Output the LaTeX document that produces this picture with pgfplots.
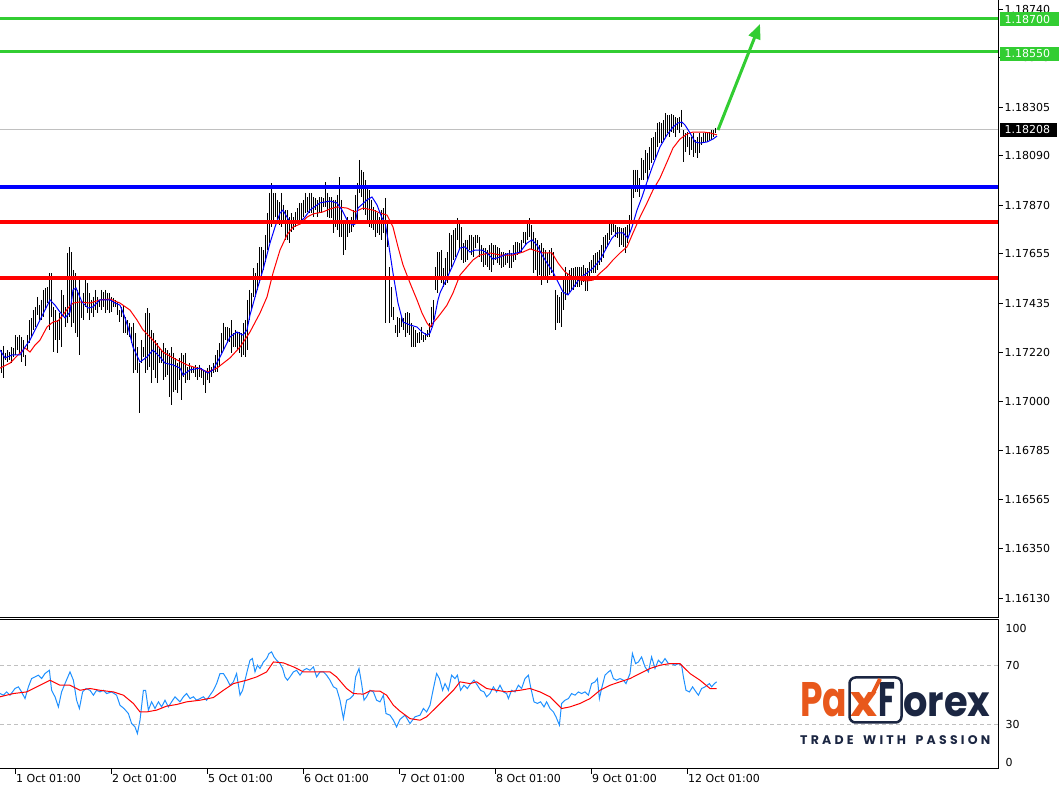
\documentclass[border=0pt]{standalone}
\usepackage{fontspec}
\setmainfont{DejaVu Sans}
\newfontfamily\logofont{Poppins}
\usepackage{pgfplots}
\pgfplotsset{compat=1.18}
\usepackage{pgfplotstable}
\usetikzlibrary{arrows.meta}

\definecolor{mtgreen}{RGB}{50,205,50}
\definecolor{mtgray}{RGB}{192,192,192}
\definecolor{rsiblue}{RGB}{30,144,255}
\definecolor{pxorange}{RGB}{232,88,28}
\definecolor{pxnavy}{RGB}{27,38,66}

% H/L bars (j = bar number, 0 = 1 Oct 01:00, 48 bars per day)
\pgfplotstableread{
j h l
-7 1.17229 1.17127
-6 1.17247 1.17105
-5 1.17216 1.17185
-4 1.17229 1.17176
-3 1.17220 1.17185
-2 1.17242 1.17171
-1 1.17238 1.17198
0 1.17295 1.17207
1 1.17287 1.17229
2 1.17295 1.17216
3 1.17287 1.17176
4 1.17273 1.17198
5 1.17207 1.17158
6 1.17295 1.17229
7 1.17362 1.17260
8 1.17371 1.17287
9 1.17406 1.17318
10 1.17420 1.17331
11 1.17464 1.17384
12 1.17428 1.17362
13 1.17451 1.17362
14 1.17495 1.17375
15 1.17504 1.17406
16 1.17508 1.17437
17 1.17570 1.17318
18 1.17570 1.17375
19 1.17420 1.17220
20 1.17406 1.17273
21 1.17362 1.17216
22 1.17393 1.17273
23 1.17495 1.17242
24 1.17473 1.17375
25 1.17420 1.17331
26 1.17659 1.17349
27 1.17686 1.17375
28 1.17663 1.17331
29 1.17584 1.17349
30 1.17570 1.17304
31 1.17495 1.17287
32 1.17539 1.17207
33 1.17451 1.17371
34 1.17482 1.17362
35 1.17539 1.17420
36 1.17526 1.17393
37 1.17482 1.17362
38 1.17451 1.17393
39 1.17464 1.17375
40 1.17495 1.17406
41 1.17464 1.17393
42 1.17451 1.17420
43 1.17495 1.17406
44 1.17486 1.17420
45 1.17495 1.17393
46 1.17482 1.17406
47 1.17482 1.17393
48 1.17464 1.17397
49 1.17460 1.17420
50 1.17451 1.17420
51 1.17442 1.17384
52 1.17406 1.17353
53 1.17420 1.17375
54 1.17428 1.17304
55 1.17375 1.17304
56 1.17362 1.17295
57 1.17349 1.17287
58 1.17331 1.17260
59 1.17349 1.17127
60 1.17304 1.17141
61 1.17242 1.17127
62 1.17171 1.16950
63 1.17273 1.17171
64 1.17242 1.17198
65 1.17393 1.17127
66 1.17415 1.17141
67 1.17393 1.17154
68 1.17318 1.17083
69 1.17304 1.17141
70 1.17273 1.17105
71 1.17260 1.17083
72 1.17242 1.17171
73 1.17229 1.17171
74 1.17260 1.17096
75 1.17238 1.17109
76 1.17229 1.17118
77 1.17216 1.17021
78 1.17242 1.16985
79 1.17216 1.17043
80 1.17194 1.17052
81 1.17171 1.17039
82 1.17194 1.17096
83 1.17216 1.17008
84 1.17207 1.17109
85 1.17216 1.17083
86 1.17154 1.17096
87 1.17171 1.17096
88 1.17154 1.17127
89 1.17154 1.17127
90 1.17163 1.17109
91 1.17154 1.17096
92 1.17163 1.17109
93 1.17149 1.17105
94 1.17141 1.17074
95 1.17132 1.17039
96 1.17149 1.17096
97 1.17163 1.17083
98 1.17154 1.17109
99 1.17171 1.17127
100 1.17207 1.17132
101 1.17229 1.17132
102 1.17260 1.17154
103 1.17304 1.17216
104 1.17349 1.17229
105 1.17331 1.17273
106 1.17331 1.17260
107 1.17327 1.17264
108 1.17362 1.17216
109 1.17304 1.17242
110 1.17318 1.17242
111 1.17309 1.17229
112 1.17309 1.17216
113 1.17304 1.17198
114 1.17349 1.17207
115 1.17362 1.17198
116 1.17451 1.17229
117 1.17495 1.17362
118 1.17482 1.17406
119 1.17592 1.17464
120 1.17570 1.17464
121 1.17615 1.17495
122 1.17686 1.17526
123 1.17686 1.17553
124 1.17672 1.17584
125 1.17739 1.17619
126 1.17836 1.17672
127 1.17925 1.17703
128 1.17969 1.17774
129 1.17925 1.17805
130 1.17925 1.17818
131 1.17894 1.17792
132 1.17885 1.17783
133 1.17925 1.17774
134 1.17872 1.17796
135 1.17849 1.17717
136 1.17849 1.17717
137 1.17818 1.17703
138 1.17836 1.17752
139 1.17818 1.17761
140 1.17841 1.17774
141 1.17858 1.17792
142 1.17881 1.17796
143 1.17881 1.17796
144 1.17894 1.17818
145 1.17925 1.17836
146 1.17907 1.17841
147 1.17925 1.17836
148 1.17925 1.17836
149 1.17907 1.17818
150 1.17903 1.17849
151 1.17894 1.17818
152 1.17907 1.17836
153 1.17907 1.17836
154 1.17903 1.17863
155 1.17974 1.17863
156 1.17925 1.17818
157 1.17907 1.17814
158 1.17907 1.17814
159 1.17894 1.17748
160 1.17894 1.17774
161 1.17916 1.17761
162 1.17996 1.17730
163 1.17894 1.17730
164 1.17805 1.17650
165 1.17805 1.17672
166 1.17818 1.17730
167 1.17805 1.17748
168 1.17818 1.17752
169 1.17849 1.17774
170 1.17916 1.17796
171 1.17969 1.17805
172 1.18071 1.17925
173 1.18027 1.17907
174 1.18018 1.17849
175 1.17982 1.17827
176 1.17951 1.17792
177 1.17938 1.17774
178 1.17894 1.17770
179 1.17863 1.17761
180 1.17849 1.17730
181 1.17836 1.17748
182 1.17818 1.17739
183 1.17849 1.17717
184 1.17858 1.17748
185 1.17903 1.17349
186 1.17805 1.17686
187 1.17597 1.17349
188 1.17508 1.17375
189 1.17420 1.17362
190 1.17340 1.17304
191 1.17375 1.17287
192 1.17371 1.17304
193 1.17375 1.17331
194 1.17371 1.17318
195 1.17393 1.17287
196 1.17397 1.17304
197 1.17393 1.17295
198 1.17349 1.17242
199 1.17331 1.17242
200 1.17318 1.17242
201 1.17304 1.17260
202 1.17309 1.17260
203 1.17331 1.17273
204 1.17295 1.17264
205 1.17304 1.17273
206 1.17318 1.17287
207 1.17349 1.17287
208 1.17420 1.17331
209 1.17451 1.17362
210 1.17597 1.17495
211 1.17663 1.17482
212 1.17663 1.17539
213 1.17672 1.17526
214 1.17592 1.17508
215 1.17637 1.17517
216 1.17663 1.17526
217 1.17748 1.17570
218 1.17739 1.17597
219 1.17761 1.17628
220 1.17770 1.17641
221 1.17814 1.17717
222 1.17796 1.17672
223 1.17774 1.17628
224 1.17703 1.17615
225 1.17717 1.17619
226 1.17717 1.17628
227 1.17739 1.17672
228 1.17739 1.17650
229 1.17730 1.17641
230 1.17739 1.17681
231 1.17739 1.17703
232 1.17730 1.17641
233 1.17694 1.17619
234 1.17681 1.17597
235 1.17681 1.17606
236 1.17672 1.17597
237 1.17694 1.17584
238 1.17703 1.17575
239 1.17694 1.17606
240 1.17694 1.17628
241 1.17686 1.17615
242 1.17681 1.17606
243 1.17663 1.17592
244 1.17663 1.17597
245 1.17659 1.17606
246 1.17659 1.17615
247 1.17672 1.17592
248 1.17659 1.17592
249 1.17694 1.17619
250 1.17708 1.17628
251 1.17708 1.17650
252 1.17703 1.17659
253 1.17717 1.17663
254 1.17752 1.17703
255 1.17752 1.17694
256 1.17796 1.17717
257 1.17814 1.17730
258 1.17783 1.17672
259 1.17752 1.17570
260 1.17725 1.17584
261 1.17717 1.17553
262 1.17694 1.17561
263 1.17703 1.17517
264 1.17681 1.17553
265 1.17672 1.17539
266 1.17659 1.17526
267 1.17672 1.17561
268 1.17681 1.17570
269 1.17663 1.17553
270 1.17495 1.17318
271 1.17473 1.17349
272 1.17464 1.17349
273 1.17486 1.17331
274 1.17539 1.17406
275 1.17597 1.17451
276 1.17570 1.17473
277 1.17584 1.17486
278 1.17592 1.17495
279 1.17592 1.17495
280 1.17597 1.17508
281 1.17597 1.17508
282 1.17597 1.17508
283 1.17597 1.17517
284 1.17606 1.17530
285 1.17592 1.17491
286 1.17592 1.17491
287 1.17619 1.17548
288 1.17628 1.17570
289 1.17650 1.17570
290 1.17659 1.17570
291 1.17663 1.17584
292 1.17672 1.17606
293 1.17694 1.17619
294 1.17730 1.17637
295 1.17739 1.17672
296 1.17748 1.17686
297 1.17796 1.17717
298 1.17796 1.17739
299 1.17796 1.17752
300 1.17783 1.17730
301 1.17774 1.17725
302 1.17774 1.17686
303 1.17770 1.17694
304 1.17770 1.17686
305 1.17774 1.17659
306 1.17783 1.17703
307 1.17827 1.17739
308 1.17960 1.17792
309 1.18027 1.17903
310 1.18027 1.17929
311 1.18027 1.17929
312 1.17991 1.17907
313 1.18080 1.17982
314 1.18071 1.17982
315 1.18115 1.18013
316 1.18102 1.17982
317 1.18129 1.18027
318 1.18168 1.18058
319 1.18173 1.18071
320 1.18195 1.18080
321 1.18235 1.18129
322 1.18239 1.18146
323 1.18235 1.18146
324 1.18248 1.18160
325 1.18279 1.18173
326 1.18270 1.18191
327 1.18270 1.18173
328 1.18275 1.18195
329 1.18270 1.18191
330 1.18262 1.18173
331 1.18257 1.18204
332 1.18262 1.18191
333 1.18293 1.18217
334 1.18204 1.18062
335 1.18191 1.18106
336 1.18195 1.18129
337 1.18173 1.18093
338 1.18173 1.18115
339 1.18191 1.18084
340 1.18160 1.18102
341 1.18173 1.18080
342 1.18191 1.18102
343 1.18173 1.18137
344 1.18191 1.18146
345 1.18195 1.18151
346 1.18191 1.18151
347 1.18195 1.18160
348 1.18204 1.18160
349 1.18204 1.18173
350 1.18213 1.18191
}\bars

\pgfplotstableread{
j p
-7.5 1.17229
-5 1.17194
-1.5 1.17207
2.5 1.17207
5 1.17242
7.5 1.17273
12.5 1.17362
17.5 1.17451
20 1.17428
22.5 1.17397
25 1.17371
27.5 1.17397
29 1.17495
30.5 1.17504
33.5 1.17442
36.5 1.17415
39 1.17420
42.5 1.17451
47.5 1.17451
50 1.17437
52.5 1.17428
54.5 1.17384
56.5 1.17331
59 1.17242
62.5 1.17176
66 1.17198
69 1.17229
72.5 1.17198
75 1.17171
79 1.17163
82.5 1.17149
84 1.17118
87.5 1.17141
92.5 1.17149
96.5 1.17127
99 1.17141
102.5 1.17198
107.5 1.17287
111 1.17309
114 1.17295
116 1.17318
117.5 1.17384
121 1.17495
124 1.17584
127.5 1.17703
130 1.17774
132.5 1.17836
134 1.17849
136 1.17818
137.5 1.17796
142.5 1.17796
145 1.17818
147.5 1.17849
152.5 1.17881
157.5 1.17889
161 1.17881
163.5 1.17849
166 1.17805
168.5 1.17783
170 1.17787
171.5 1.17858
176 1.17894
178.5 1.17907
181 1.17872
183.5 1.17814
185 1.17796
186.5 1.17717
189 1.17570
191.5 1.17437
194 1.17353
197.5 1.17340
201 1.17331
203.5 1.17309
206 1.17295
207.5 1.17304
209 1.17340
211.5 1.17451
212.5 1.17482
216 1.17548
219 1.17606
222.5 1.17681
225 1.17686
227.5 1.17663
230 1.17672
233.5 1.17672
236 1.17659
239 1.17632
242.5 1.17641
246 1.17655
249 1.17655
252.5 1.17663
256 1.17703
258.5 1.17717
261 1.17694
263.5 1.17650
266 1.17615
269 1.17575
271.5 1.17530
274 1.17486
276.5 1.17473
279 1.17504
282.5 1.17548
286 1.17570
289 1.17592
292.5 1.17628
296 1.17686
298.5 1.17725
301 1.17748
304 1.17748
306.5 1.17725
308.5 1.17774
311 1.17849
313.5 1.17907
316 1.17974
319 1.18049
322.5 1.18129
326 1.18182
329 1.18217
331.5 1.18235
333.5 1.18239
335 1.18226
337.5 1.18191
340 1.18151
342.5 1.18146
346 1.18151
349 1.18164
351 1.18177
}\mafast

\pgfplotstableread{
j p
-7.5 1.17149
-2.5 1.17171
2.5 1.17216
5 1.17238
7.5 1.17220
10 1.17251
12.5 1.17273
16 1.17331
19 1.17353
21.5 1.17358
24 1.17384
26.5 1.17415
29 1.17437
32.5 1.17442
37.5 1.17437
42.5 1.17451
47.5 1.17455
52.5 1.17437
57.5 1.17406
61 1.17362
64 1.17318
69 1.17273
74 1.17220
79 1.17194
86 1.17163
92.5 1.17145
96.5 1.17132
101 1.17149
107.5 1.17194
112.5 1.17242
117.5 1.17309
122.5 1.17393
126 1.17464
129 1.17570
132.5 1.17672
136 1.17739
139 1.17774
142.5 1.17787
146 1.17818
149 1.17832
154 1.17841
157.5 1.17854
161 1.17863
166 1.17858
170 1.17841
174 1.17858
179 1.17849
182.5 1.17836
186 1.17827
189 1.17774
191.5 1.17686
194 1.17606
197.5 1.17526
201 1.17451
203.5 1.17393
206 1.17349
207.5 1.17331
209 1.17349
211.5 1.17375
216 1.17428
219 1.17482
222.5 1.17561
226 1.17597
229 1.17628
232.5 1.17650
237.5 1.17659
242.5 1.17650
249 1.17650
254 1.17663
257.5 1.17677
264 1.17659
268.5 1.17659
271.5 1.17615
275 1.17575
278.5 1.17553
282.5 1.17539
286 1.17535
289 1.17539
292.5 1.17570
296 1.17597
299 1.17628
302.5 1.17659
306 1.17686
309 1.17748
312.5 1.17818
316 1.17881
319 1.17938
322.5 1.17991
326 1.18062
329 1.18124
332.5 1.18164
336 1.18186
339 1.18195
344 1.18195
347.5 1.18191
351 1.18182
}\maslow

\pgfplotstableread{
j v
-7.5 50.9
-5.8 49.8
-4.2 52.0
-2.5 49.8
0 54.3
1.7 55.4
3.3 52.0
5 47.5
6.7 55.4
8.3 61.0
10 62.1
11.7 63.3
13.3 61.0
15 64.4
17.2 66.6
18.3 53.1
20 48.7
21.7 41.9
23.3 52.0
25 57.6
27.5 65.5
29.2 59.9
30.8 46.4
32.2 40.8
33.8 52.0
35.5 54.3
37.5 53.1
39.2 49.8
40.8 53.1
42.5 52.0
44.2 53.1
45.8 50.9
48.3 52.0
50.8 49.8
52.5 43.0
54.5 40.8
56.7 37.4
58.3 30.7
60 28.4
61.2 23.9
62.5 32.9
64.2 53.1
65.3 53.1
66.7 39.7
68.3 45.3
70 40.8
71.7 45.3
73.3 41.9
75 46.4
76.7 41.9
78.3 45.3
80 48.7
82.5 45.3
84.2 48.7
85.8 50.9
87.5 47.5
89.2 48.7
90.8 46.4
92.5 47.5
94.2 48.7
95.8 46.4
97.5 49.8
99.2 53.1
100.8 57.6
102.5 64.4
104.2 64.4
105.8 61.0
107.5 56.5
109.2 58.8
110.8 64.4
112.5 49.8
113.8 53.1
115 59.9
116.2 66.6
117.5 73.4
118.7 74.5
120 65.5
121.2 70.0
122.5 67.8
124.2 72.2
125.8 74.5
127 77.9
128.3 79.0
129.5 75.6
130.8 73.4
132.5 71.1
133.8 67.8
135 62.1
136.2 59.9
137.5 62.1
139.2 65.5
140.8 66.6
142.5 63.3
144.2 66.6
145.8 67.8
147.5 66.6
149.2 68.9
150.8 62.1
152.5 65.5
154.2 65.5
155.8 63.3
157.5 59.9
159.2 55.4
160.8 54.3
162.5 46.4
164.2 34.0
165.8 46.4
167.5 47.5
169.2 49.8
170.3 62.1
172 67.8
173.3 57.6
174.5 46.4
175.8 48.7
177.5 53.1
179.2 52.0
180.8 46.4
182.5 45.3
184.2 49.8
185.5 37.4
187.5 36.3
189.2 32.9
190.8 28.4
192.5 33.5
195 36.3
197.5 30.7
200 35.2
202.5 36.3
204.2 40.8
205.8 38.5
207.5 43.0
209.2 54.3
210.8 64.4
212.2 61.0
213.8 53.1
215 57.6
216.7 53.1
218.3 63.3
220 61.0
221.2 63.3
222.8 53.1
224.5 56.5
226.2 54.3
227.8 57.6
229.5 59.9
231.2 56.5
232.8 53.1
234.5 52.0
235.8 48.7
237.5 50.9
239.2 55.4
240.8 52.0
242.5 56.5
244.2 52.0
245.8 50.9
246.7 47.5
248.3 53.1
250 52.0
251.7 56.5
253.3 54.3
255 61.0
256.7 63.3
257.8 55.4
259.5 45.3
261.2 44.2
262.8 45.3
264.5 41.9
265.8 45.3
267.5 40.8
269.2 38.5
270.5 35.2
272.2 29.6
273.3 44.2
275 46.4
276.7 47.5
278.3 50.9
280 49.8
281.7 52.0
283.3 50.9
285 52.0
286.7 49.8
288.3 57.6
290 58.8
291.2 61.0
292.2 47.5
293.3 54.3
295 63.3
296.7 65.5
297.8 66.6
299.2 61.0
300.8 59.9
302.5 61.0
304.2 59.9
305.5 57.6
307.5 64.4
308.7 77.9
310.3 71.1
311.7 72.2
313.3 75.6
315 68.9
316.7 65.5
318.3 75.6
320 67.8
321.7 73.4
323.3 71.1
325 74.5
326.7 71.1
328.3 71.1
330 70.0
331.7 71.1
333.3 70.0
334.2 62.1
335.5 53.1
337.2 52.0
338.8 55.4
340.5 52.0
341.7 49.8
343.3 54.3
345 55.4
347.2 57.6
348.3 55.4
349.7 57.6
350.8 58.8
}\rsi

\pgfplotstableread{
j v
-7.5 48.7
-0.8 50.9
5.8 52.0
12.5 56.5
17.5 59.9
22.5 56.5
27.5 56.5
32.5 53.1
37.5 54.3
42.5 53.1
49.2 52.0
54.2 49.8
59.2 44.2
62.5 38.5
65.8 38.5
70.8 39.7
75.8 42.4
80.8 43.5
85.8 45.3
92.5 46.4
99.2 48.2
104.2 53.1
109.2 57.6
115.8 59.9
120.8 62.1
125.8 65.5
129.2 72.2
134.2 71.6
139.2 68.9
144.2 65.5
149.2 65.5
157.5 65.5
160.8 62.1
165.8 54.3
169.2 50.9
174.2 50.5
177.5 52.7
182.5 52.5
185.8 49.8
189.2 43.0
192.5 39.0
197.5 34.0
202.5 32.9
205.8 35.2
209.2 39.7
214.2 46.4
219.2 53.1
222.5 58.8
227.5 57.6
230.8 58.8
235.8 54.3
240.8 53.1
245.8 52.0
252.5 53.1
257.5 54.3
262.5 52.0
267.5 48.7
270.8 44.2
273.3 40.8
277.5 41.9
282.5 44.2
287.5 47.5
292.5 53.1
297.5 56.5
302.5 58.8
307.5 61.0
312.5 64.4
317.5 67.8
322.5 70.0
327.5 71.1
332.5 71.1
337.5 64.4
342.5 59.9
347.5 54.3
350.8 54.3
}\rsima

\begin{document}
\begin{tikzpicture}
\useasboundingbox (0pt,0pt) rectangle (1061pt,787pt);
\fontsize{11}{13}\selectfont
% ---------------- main price panel
\begin{axis}[
  at={(0pt,170pt)}, anchor=south west, scale only axis,
  width=998.5pt, height=617pt,
  xmin=-7.5, xmax=491.75, ymin=1.16046, ymax=1.18780,
  axis line style={draw=none},
  xtick=\empty,
  ytick={1.18740,1.18525,1.18305,1.18090,1.17870,1.17655,1.17435,1.17220,1.17000,1.16785,1.16565,1.16350,1.16130},
  yticklabels={1.18740,1.18525,1.18305,1.18090,1.17870,1.17655,1.17435,1.17220,1.17000,1.16785,1.16565,1.16350,1.16130},
  ytick pos=right, yticklabel pos=right, tick align=outside,
  major tick length=4pt,
  y tick style={black, line width=1pt},
  yticklabel style={font=\fontsize{11}{13}\selectfont, anchor=west, inner sep=0pt, xshift=2pt},
]
\addplot[mtgray, line width=0.8pt] coordinates {(-7.5,1.18208) (491.75,1.18208)};
\addplot[draw=none, mark=none,
  error bars/.cd, y dir=minus, y explicit, error mark=none,
  error bar style={draw=black, line width=0.75pt}]
  table[x=j, y=h, y error minus expr=\thisrow{h}-\thisrow{l}] {\bars};
\addplot[red, line width=1pt] table[x=j, y=p] {\maslow};
\addplot[blue, line width=1pt] table[x=j, y=p] {\mafast};
\addplot[mtgreen, line width=3pt] coordinates {(-7.5,1.18700) (491.75,1.18700)};
\addplot[mtgreen, line width=3pt] coordinates {(-7.5,1.18550) (491.75,1.18550)};
\addplot[blue, line width=3.3pt] coordinates {(-7.5,1.17951) (491.75,1.17951)};
\addplot[red, line width=3.3pt] coordinates {(-7.5,1.17796) (491.75,1.17796)};
\addplot[red, line width=3.3pt] coordinates {(-7.5,1.17548) (491.75,1.17548)};
\addplot[mtgreen, line width=3pt, -{Triangle[length=15pt,width=12pt]}] coordinates {(351.5,1.18204) (372.5,1.18674)};
\end{axis}
% ---------------- RSI panel
\begin{axis}[
  at={(0pt,18pt)}, anchor=south west, scale only axis,
  width=998.5pt, height=149.5pt,
  xmin=-7.5, xmax=491.75, ymin=0, ymax=100.85,
  axis line style={draw=none},
  xtick={0,48,96,144,192,240,288,336},
  xticklabels={1 Oct 01:00,2 Oct 01:00,5 Oct 01:00,6 Oct 01:00,7 Oct 01:00,8 Oct 01:00,9 Oct 01:00,12 Oct 01:00},
  xtick pos=left, tick align=outside, major tick length=5pt,
  x tick style={black, line width=1pt},
  xticklabel style={font=\fontsize{11}{13}\selectfont, anchor=north west, inner sep=0pt, xshift=1pt},
  ytick={4.7,30,70,95.1}, yticklabels={0,30,70,100},
  ytick pos=right, yticklabel pos=right,
  y tick style={draw=none},
  yticklabel style={font=\fontsize{11}{13}\selectfont, anchor=west, inner sep=0pt, xshift=2pt},
]
\addplot[mtgray, line width=0.8pt, dash pattern=on 4pt off 3pt] coordinates {(-7.5,70) (491.75,70)};
\addplot[mtgray, line width=0.8pt, dash pattern=on 4pt off 3pt] coordinates {(-7.5,30) (491.75,30)};
\addplot[rsiblue, line width=1pt] table[x=j, y=v] {\rsi};
\addplot[red, line width=1pt] table[x=j, y=v] {\rsima};
\end{axis}
% ---------------- frames
\draw[black, line width=1pt] (0pt,169.5pt) -- (998.5pt,169.5pt) -- (998.5pt,787pt);
\draw[black, line width=1pt] (0pt,167.5pt) -- (998.5pt,167.5pt) -- (998.5pt,18pt) -- (0pt,18pt);
% ---------------- price labels on the scale
\fill[mtgreen] (1000pt,760.5pt) rectangle (1059pt,774.5pt);
\node[anchor=west, inner sep=0pt, text=white, font=\fontsize{11}{13}\selectfont] at (1004.5pt,767.5pt) {1.18700};
\fill[mtgreen] (1000pt,726pt) rectangle (1059pt,740pt);
\node[anchor=west, inner sep=0pt, text=white, font=\fontsize{11}{13}\selectfont] at (1004.5pt,733pt) {1.18550};
\fill[black] (1000pt,650pt) rectangle (1057pt,664pt);
\node[anchor=west, inner sep=0pt, text=white, font=\fontsize{11}{13}\selectfont] at (1004.5pt,657pt) {1.18208};
% ---------------- logo
\node[anchor=south west, inner sep=0pt, text=pxorange] at (800pt,70pt) {\resizebox{47pt}{34pt}{\logofont\bfseries Pa}};
\node[anchor=south west, inner sep=0pt, text=pxorange] at (850pt,70pt) {\resizebox{27pt}{24pt}{\logofont\bfseries x}};
\node[anchor=south west, inner sep=0pt, text=pxnavy] at (878pt,70pt) {\resizebox{17pt}{34pt}{\logofont\bfseries F}};
\node[anchor=south west, inner sep=0pt, text=pxnavy] at (903pt,70pt) {\resizebox{87pt}{24pt}{\logofont\bfseries orex}};
\draw[pxnavy, line width=2.5pt, rounded corners=6pt] (849.5pt,64.5pt) rectangle (901.5pt,109.5pt);
\draw[pxorange, line width=4pt] (872.5pt,93pt) -- (880pt,108pt);
\node[anchor=south west, inner sep=0pt, text=pxnavy] at (800pt,42pt) {\logofont\bfseries\fontsize{12.5}{14}\selectfont\makebox[190pt][s]{T\hfill R\hfill A\hfill D\hfill E\hfill\hfill\hfill W\hfill I\hfill T\hfill H\hfill\hfill\hfill P\hfill A\hfill S\hfill S\hfill I\hfill O\hfill N}};
\end{tikzpicture}
\end{document}
